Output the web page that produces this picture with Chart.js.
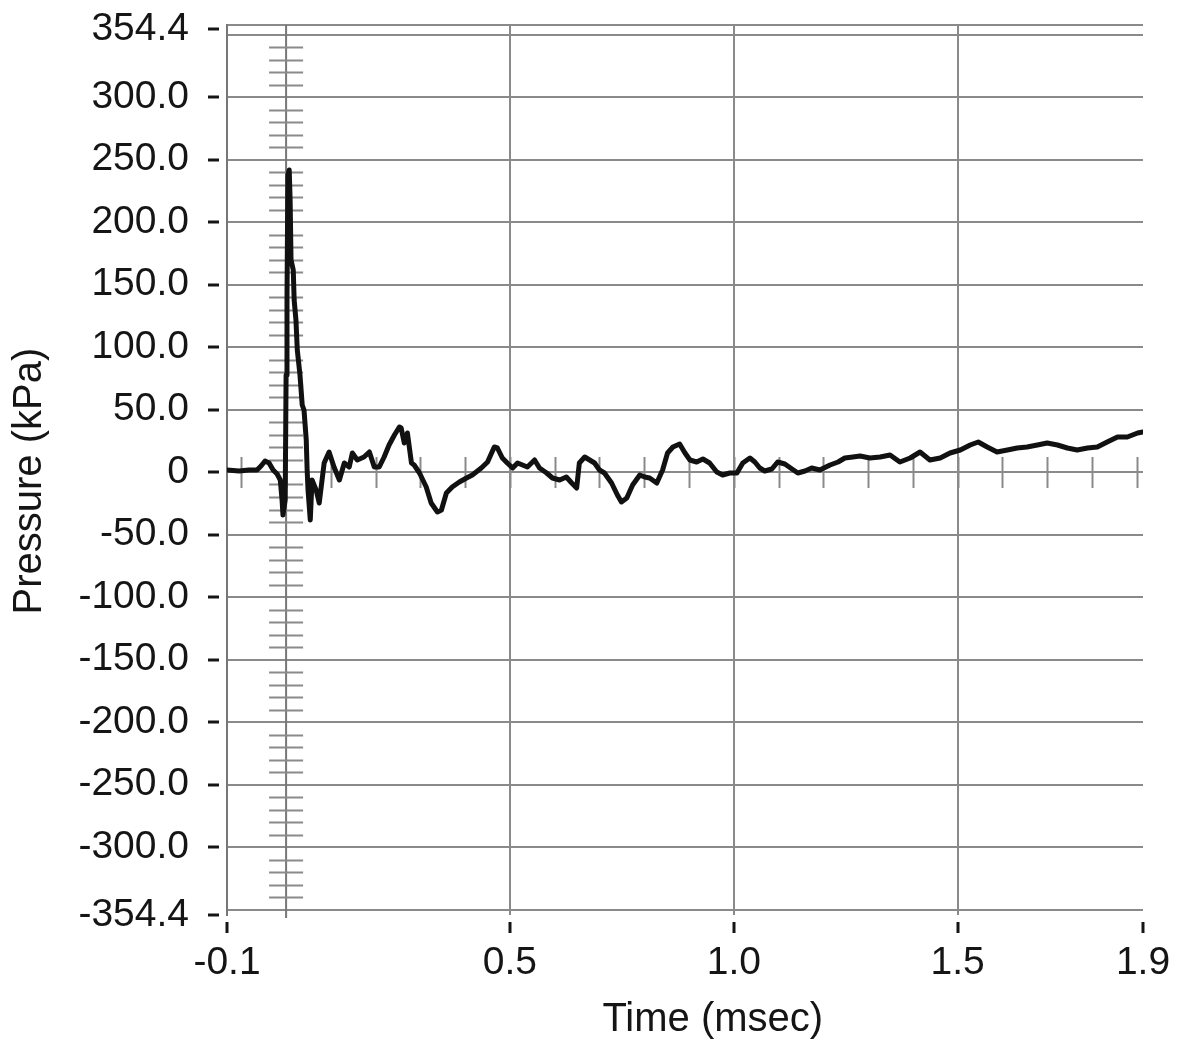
<!DOCTYPE html>
<html>
<head>
<meta charset="utf-8">
<script src="https://cdn.jsdelivr.net/npm/chart.js@4.4.1/dist/chart.umd.min.js"></script>
<style>
  html, body { margin: 0; padding: 0; background: #ffffff; }
  #wrap { width: 1181px; height: 1061px; }
</style>
</head>
<body>
<div id="wrap"><canvas id="c" width="1181" height="1061"></canvas></div>
<script>
// ---- data (time in msec, pressure in kPa) ----
const times = [
  -0.132, -0.105, -0.083, -0.065, -0.056, -0.047, -0.038, -0.029, -0.020, -0.013,
  -0.009, -0.007, -0.002, 0.000, 0.002, 0.004, 0.007, 0.009, 0.011, 0.016,
  0.018, 0.022, 0.025, 0.031, 0.036, 0.040, 0.045, 0.047, 0.049, 0.054,
  0.058, 0.067, 0.074, 0.085, 0.096, 0.107, 0.119, 0.130, 0.141, 0.148,
  0.159, 0.174, 0.186, 0.197, 0.208, 0.219, 0.230, 0.242, 0.253, 0.257,
  0.264, 0.271, 0.280, 0.286, 0.298, 0.313, 0.324, 0.338, 0.347, 0.358,
  0.371, 0.387, 0.403, 0.416, 0.436, 0.450, 0.465, 0.472, 0.483, 0.494,
  0.506, 0.517, 0.528, 0.539, 0.555, 0.566, 0.582, 0.595, 0.611, 0.626,
  0.638, 0.649, 0.655, 0.667, 0.678, 0.689, 0.700, 0.711, 0.727, 0.740,
  0.749, 0.761, 0.774, 0.790, 0.801, 0.812, 0.828, 0.841, 0.852, 0.864,
  0.879, 0.891, 0.902, 0.917, 0.931, 0.946, 0.962, 0.975, 0.991, 1.007,
  1.020, 1.036, 1.047, 1.058, 1.069, 1.085, 1.098, 1.114, 1.130, 1.143,
  1.159, 1.174, 1.192, 1.215, 1.233, 1.248, 1.266, 1.282, 1.304, 1.327,
  1.349, 1.371, 1.394, 1.416, 1.438, 1.461, 1.483, 1.506, 1.528, 1.546,
  1.566, 1.588, 1.611, 1.633, 1.655, 1.678, 1.700, 1.723, 1.745, 1.767,
  1.790, 1.812, 1.834, 1.857, 1.879, 1.902, 1.914
];
const pressures = [
  1.6, 0.8, 1.6, 1.6, 4.8, 8.8, 7.2, 1.6, -1.6, -6.4,
  -22.4, -34.4, -22.4, 77.6, 137.6, 237.6, 241.6, 217.6, 169.6, 161.6,
  137.6, 121.6, 97.6, 77.6, 53.6, 49.6, 25.6, 1.6, -14.4, -38.4,
  -6.4, -14.4, -24.8, 7.2, 16.0, 4.0, -6.4, 7.2, 4.0, 15.2,
  9.6, 12.0, 16.0, 4.0, 4.0, 12.0, 21.6, 29.6, 36.0, 35.2,
  23.2, 31.2, 7.2, 5.6, -0.8, -12.0, -24.8, -32.0, -30.4, -16.8,
  -12.0, -8.0, -4.8, -2.4, 3.2, 8.0, 20.0, 19.2, 11.2, 7.2,
  3.2, 7.2, 5.6, 4.0, 9.6, 3.2, -0.8, -4.8, -6.4, -4.0,
  -8.8, -12.8, 7.2, 12.0, 9.6, 7.2, 1.6, -0.8, -8.8, -18.4,
  -24.0, -20.8, -10.4, -2.4, -4.0, -4.8, -8.8, 1.6, 15.2, 20.0,
  22.4, 15.2, 9.6, 8.0, 10.4, 7.2, 0.0, -2.4, -0.8, -0.8,
  7.2, 11.2, 8.0, 3.2, 0.8, 2.4, 8.0, 6.4, 2.4, -0.8,
  0.8, 3.2, 1.6, 5.6, 8.0, 11.2, 12.0, 12.8, 11.2, 12.0,
  13.6, 8.0, 11.2, 16.0, 9.6, 11.2, 15.2, 17.6, 21.6, 24.0,
  20.0, 16.0, 17.6, 19.2, 20.0, 21.6, 23.2, 21.6, 19.2, 17.6,
  19.2, 20.0, 24.0, 28.0, 28.0, 31.2, 32.0
];

// ---- axes ----
const xMin = -0.132, xMax = 1.914;
const xTickValues = [xMin, 0.5, 1.0, 1.5, xMax];
const xTickLabels = ['-0.1', '0.5', '1.0', '1.5', '1.9'];
const xGridValues = [0.5, 1.0, 1.5];
const xMinorTicks = [-0.1, 0, 0.1, 0.2, 0.3, 0.4, 0.5, 0.6, 0.7, 0.8, 0.9, 1.0, 1.1, 1.2, 1.3, 1.4, 1.5, 1.6, 1.7, 1.8, 1.9];

const yMin = -354.4, yMax = 357.6;
const yLabelValues = [-354.4, -300, -250, -200, -150, -100, -50, 0, 50, 100, 150, 200, 250, 300, 354.4];
const yLabelTexts = ['-354.4', '-300.0', '-250.0', '-200.0', '-150.0', '-100.0', '-50.0', '0', '50.0', '100.0', '150.0', '200.0', '250.0', '300.0', '354.4'];
const yGridValues = [-350, -300, -250, -200, -150, -100, -50, 0, 50, 100, 150, 200, 250, 300, 350, 357.6];
const yMinorStep = 10, yMinorLimit = 350;

const GRID = '#8a8a8a';
const DARK = '#151515';
const FONT = "'Liberation Sans', Arial, sans-serif";
const FSIZE = 39;
const TSIZE = 40;

const yAllTicks = Array.from(new Set(yLabelValues.concat(yGridValues))).sort((a, b) => a - b);

const decor = {
  id: 'decor',
  beforeDatasetsDraw(chart) {
    const ctx = chart.ctx, xs = chart.scales.x, ys = chart.scales.y;
    const area = chart.chartArea;
    const x0 = xs.getPixelForValue(0);
    const y0 = ys.getPixelForValue(0);
    ctx.save();
    ctx.strokeStyle = '#777777';
    ctx.lineWidth = 2;
    // vertical axis line at t = 0
    ctx.beginPath();
    ctx.moveTo(x0, area.top);
    ctx.lineTo(x0, area.bottom + 3);
    ctx.stroke();
    // minor ticks on that line, every 10 kPa
    ctx.strokeStyle = GRID;
    for (let v = -yMinorLimit + yMinorStep; v < yMinorLimit; v += yMinorStep) {
      if (Math.abs(v % 50) < 1e-6) continue;
      const py = Math.round(ys.getPixelForValue(v)) + 0.5;
      ctx.beginPath();
      ctx.moveTo(x0 - 17, py);
      ctx.lineTo(x0 + 17, py);
      ctx.stroke();
    }
    // minor ticks on the zero line, every 0.1 msec
    xMinorTicks.forEach(t => {
      const px = Math.round(xs.getPixelForValue(t)) + 0.5;
      ctx.beginPath();
      ctx.moveTo(px, y0 - 15);
      ctx.lineTo(px, y0 + 16);
      ctx.stroke();
    });
    ctx.restore();
  }
};

new Chart(document.getElementById('c'), {
  type: 'line',
  data: {
    datasets: [{
      data: times.map((t, i) => ({ x: t, y: pressures[i] })),
      borderColor: '#111111',
      borderWidth: 5,
      borderJoinStyle: 'round',
      borderCapStyle: 'round',
      pointRadius: 0,
      tension: 0,
      fill: false
    }]
  },
  options: {
    responsive: false,
    devicePixelRatio: 1,
    animation: false,
    events: [],
    layout: { padding: { left: 0, right: 38, top: 25, bottom: 0 } },
    plugins: { legend: { display: false }, tooltip: { enabled: false } },
    scales: {
      x: {
        type: 'linear',
        min: xMin, max: xMax,
        afterBuildTicks(scale) { scale.ticks = xTickValues.map(v => ({ value: v })); },
        afterFit(scale) { scale.height = 146; },
        ticks: {
          autoSkip: false,
          maxRotation: 0,
          padding: 7,
          color: DARK,
          font: { family: FONT, size: FSIZE },
          callback(value) {
            const i = xTickValues.findIndex(v => Math.abs(v - value) < 1e-6);
            return i >= 0 ? xTickLabels[i] : '';
          }
        },
        grid: {
          drawTicks: true,
          tickLength: 18,
          tickWidth: 3,
          tickColor: DARK,
          tickBorderDash: [11, 7],
          tickBorderDashOffset: 11,
          lineWidth: 2,
          color(c) {
            if (!c.tick) return 'transparent';
            return xGridValues.some(v => Math.abs(v - c.tick.value) < 1e-6) ? GRID : 'transparent';
          }
        },
        border: { display: false },
        title: {
          display: true,
          text: '     Time (msec)',
          color: DARK,
          font: { family: FONT, size: TSIZE },
          padding: { top: 0, bottom: 17 }
        }
      },
      y: {
        type: 'linear',
        min: yMin, max: yMax,
        afterBuildTicks(scale) { scale.ticks = yAllTicks.map(v => ({ value: v })); },
        afterFit(scale) { scale.width = 227; },
        ticks: {
          autoSkip: false,
          padding: 0,
          color: DARK,
          font: { family: FONT, size: FSIZE },
          callback(value) {
            const i = yLabelValues.findIndex(v => Math.abs(v - value) < 1e-6);
            return i >= 0 ? yLabelTexts[i] : '';
          }
        },
        grid: {
          drawTicks: true,
          tickLength: 38,
          tickWidth: 3,
          tickBorderDash: [11, 27],
          tickBorderDashOffset: 19,
          lineWidth: 2,
          tickColor(c) {
            if (!c.tick) return 'transparent';
            return yLabelValues.some(v => Math.abs(v - c.tick.value) < 1e-6) ? DARK : 'transparent';
          },
          color(c) {
            if (!c.tick) return 'transparent';
            return yGridValues.some(v => Math.abs(v - c.tick.value) < 1e-6) ? GRID : 'transparent';
          }
        },
        border: { display: true, color: '#777777', width: 2 },
        title: {
          display: true,
          text: 'Pressure (kPa)  ',
          color: DARK,
          font: { family: FONT, size: TSIZE },
          padding: { top: 6, bottom: 0 }
        }
      }
    }
  },
  plugins: [decor]
});
</script>
</body>
</html>
